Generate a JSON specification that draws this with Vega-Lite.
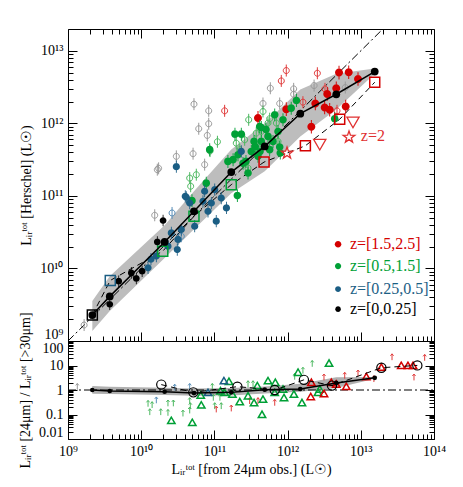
{
"$schema":"https://vega.github.io/schema/vega-lite/v6.json",
"background":"white",
"padding":{"left":17,"top":28,"right":27,"bottom":5},
"bounds":"flush",
"spacing":0,
"datasets":{
"med":[{"x":2.15e9,"y":2.28e9,"ylo":1.37e9,"yhi":3.55e9},{"x":3.72e9,"y":4.12e9,"ylo":2.59e9,"yhi":7.83e9},{"x":2.09e10,"y":2.32e10,"ylo":1.39e10,"yhi":3.94e10},{"x":5.26e10,"y":6.14e10,"ylo":3.48e10,"yhi":1.16e11},{"x":1.70e11,"y":2.13e11,"ylo":1.09e11,"yhi":4.38e11},{"x":4.87e11,"y":4.81e11,"ylo":2.18e11,"yhi":9.97e11},{"x":1.49e12,"y":1.36e12,"ylo":6.61e11,"yhi":2.93e12},{"x":4.62e12,"y":2.52e12,"ylo":1.55e12,"yhi":4.85e12},{"x":1.55e13,"y":5.18e12,"ylo":4.85e12,"yhi":5.69e12}],
"one":[{"x":1e9,"y":1e9},{"x":2e13,"y":2e13}],
"leg":[{"x":4.89e12,"tx":7.1e12,"y":2.16e10,"z":"z=[1.5,2.5]"},{"x":4.89e12,"tx":7.1e12,"y":1.08e10,"z":"z=[0.5,1.5]"},{"x":4.89e12,"tx":7.1e12,"y":5.19e9,"z":"z=[0.25,0.5]"},{"x":4.89e12,"tx":7.1e12,"y":2.75e9,"z":"z=[0,0.25]"}],
"sq":[{"x":2.15e9,"y":2.28e9,"z":"z=[0,0.25]"},{"x":3.78e9,"y":6.84e9,"z":"z=[0.25,0.5]"},{"x":1.97e10,"y":1.73e10,"z":"z=[0.5,1.5]"},{"x":5.26e10,"y":5.24e10,"z":"z=[0.5,1.5]"},{"x":1.70e11,"y":1.43e11,"z":"z=[0.5,1.5]"},{"x":4.77e11,"y":2.93e11,"z":"z=[1.5,2.5]"},{"x":1.75e12,"y":4.92e11,"z":"z=[1.5,2.5]"},{"x":5.15e12,"y":1.14e12,"z":"z=[1.5,2.5]"},{"x":1.55e13,"y":3.69e12,"z":"z=[1.5,2.5]"}],
"z2":[{"x":6.90e12,"y":6.46e11,"s":"star"},{"x":9.82e11,"y":3.89e11,"s":"star"},{"x":7.82e12,"y":1.03e12,"s":"tri"},{"x":2.75e12,"y":5.08e11,"s":"tri"}],
"z2lab":[{"x":1.0e13,"y":6.6e11,"t":"z=2"}],
"det":[
{"x":5.04e12,"y":5.01e12,"z":"z=[1.5,2.5]"},{"x":6.84e12,"y":5.06e12,"z":"z=[1.5,2.5]"},{"x":9.16e12,"y":4.10e12,"z":"z=[1.5,2.5]"},{"x":3.48e12,"y":2.55e12,"z":"z=[1.5,2.5]"},{"x":2.39e12,"y":1.88e12,"z":"z=[1.5,2.5]"},{"x":9.59e11,"y":1.57e12,"z":"z=[1.5,2.5]"},{"x":3.21e12,"y":1.66e12,"z":"z=[1.5,2.5]"},{"x":3.76e12,"y":1.54e12,"z":"z=[1.5,2.5]"},{"x":6.22e12,"y":1.71e12,"z":"z=[1.5,2.5]"},{"x":2.11e12,"y":8.98e11,"z":"z=[1.5,2.5]"},{"x":3.94e11,"y":1.19e12,"z":"z=[1.5,2.5]"},{"x":4.62e12,"y":3.05e12,"z":"z=[1.5,2.5]"},
{"x":1.91e11,"y":7.10e11,"z":"z=[0.5,1.5]"},{"x":2.33e11,"y":7.10e11,"z":"z=[0.5,1.5]"},{"x":8.63e10,"y":4.34e11,"z":"z=[0.5,1.5]"},{"x":4.16e11,"y":9.06e11,"z":"z=[0.5,1.5]"},{"x":6.67e11,"y":1.31e12,"z":"z=[0.5,1.5]"},{"x":3.48e11,"y":5.64e11,"z":"z=[0.5,1.5]"},{"x":3.62e11,"y":4.81e11,"z":"z=[0.5,1.5]"},{"x":4.37e11,"y":5.64e11,"z":"z=[0.5,1.5]"},{"x":5.40e11,"y":6.61e11,"z":"z=[0.5,1.5]"},{"x":3.19e11,"y":4.10e11,"z":"z=[0.5,1.5]"},{"x":1.80e11,"y":3.16e11,"z":"z=[0.5,1.5]"},{"x":1.53e11,"y":2.99e11,"z":"z=[0.5,1.5]"},{"x":2.10e11,"y":3.70e11,"z":"z=[0.5,1.5]"},{"x":2.88e11,"y":2.07e11,"z":"z=[0.5,1.5]"},{"x":7.74e10,"y":1.50e11,"z":"z=[0.5,1.5]"},{"x":2.06e11,"y":1.01e11,"z":"z=[0.5,1.5]"},{"x":7.40e11,"y":7.74e11,"z":"z=[0.5,1.5]"},{"x":8.65e11,"y":1.12e12,"z":"z=[0.5,1.5]"},{"x":1.32e12,"y":2.07e12,"z":"z=[0.5,1.5]"},{"x":1.12e12,"y":1.62e12,"z":"z=[0.5,1.5]"},{"x":5.69e11,"y":4.34e11,"z":"z=[0.5,1.5]"},{"x":7.80e11,"y":4.71e11,"z":"z=[0.5,1.5]"},{"x":7.94e11,"y":3.89e11,"z":"z=[0.5,1.5]"},{"x":4.40e12,"y":1.16e12,"z":"z=[0.5,1.5]"},{"x":4.37e11,"y":8.79e11,"z":"z=[0.5,1.5]"},{"x":2.46e11,"y":2.81e11,"z":"z=[0.5,1.5]"},{"x":3.94e11,"y":3.51e11,"z":"z=[0.5,1.5]"},{"x":4.94e10,"y":8.61e10,"z":"z=[0.5,1.5]"},{"x":4.20e11,"y":4.10e11,"z":"z=[0.5,1.5]"},{"x":2.70e11,"y":2.99e11,"z":"z=[0.5,1.5]"},{"x":6.32e11,"y":5.64e11,"z":"z=[0.5,1.5]"},{"x":5.07e11,"y":8.24e11,"z":"z=[0.5,1.5]"},
{"x":4.00e10,"y":9.89e10,"z":"z=[0.25,0.5]"},{"x":9.08e10,"y":7.98e10,"z":"z=[0.25,0.5]"},{"x":4.60e10,"y":7.98e10,"z":"z=[0.25,0.5]"},{"x":3.53e10,"y":3.44e10,"z":"z=[0.25,0.5]"},{"x":3.18e10,"y":2.51e10,"z":"z=[0.25,0.5]"},{"x":3.11e10,"y":1.82e10,"z":"z=[0.25,0.5]"},{"x":2.58e10,"y":3.09e10,"z":"z=[0.25,0.5]"},{"x":1.24e10,"y":1.02e10,"z":"z=[0.25,0.5]"},{"x":1.61e10,"y":1.48e10,"z":"z=[0.25,0.5]"},{"x":5.38e10,"y":3.82e10,"z":"z=[0.25,0.5]"},{"x":8.18e10,"y":6.14e10,"z":"z=[0.25,0.5]"},{"x":1.06e11,"y":4.48e10,"z":"z=[0.25,0.5]"},{"x":3.02e10,"y":2.53e11,"z":"z=[0.25,0.5]"},{"x":4.13e10,"y":9.57e10,"z":"z=[0.25,0.5]"},{"x":6.98e10,"y":8.43e10,"z":"z=[0.25,0.5]"},{"x":1.01e11,"y":1.22e11,"z":"z=[0.25,0.5]"},{"x":1.24e11,"y":9.35e10,"z":"z=[0.25,0.5]"},{"x":1.46e11,"y":6.82e10,"z":"z=[0.25,0.5]"},{"x":2.33e11,"y":4.10e11,"z":"z=[0.25,0.5]"},{"x":2.32e10,"y":2.03e10,"z":"z=[0.25,0.5]"},{"x":7.36e10,"y":1.16e11,"z":"z=[0.25,0.5]"},{"x":1.36e10,"y":1.34e10,"z":"z=[0.25,0.5]"},
{"x":1.99e10,"y":4.57e10,"z":"z=[0,0.25]"},{"x":1.66e10,"y":2.32e10,"z":"z=[0,0.25]"},{"x":4.93e9,"y":6.68e9,"z":"z=[0,0.25]"},{"x":7.33e9,"y":8.69e9,"z":"z=[0,0.25]"},{"x":8.57e9,"y":7.28e9,"z":"z=[0,0.25]"},{"x":1.03e10,"y":9.18e9,"z":"z=[0,0.25]"},{"x":3.72e9,"y":3.20e9,"z":"z=[0,0.25]"}
],
"lim":[
{"x":9.59e11,"y":5.35e12,"z":"z=[1.5,2.5]"},{"x":8.20e11,"y":3.85e12,"z":"z=[1.5,2.5]"},{"x":2.55e12,"y":4.91e12,"z":"z=[1.5,2.5]"},{"x":1.62e12,"y":1.96e12,"z":"z=[1.5,2.5]"},{"x":4.73e12,"y":1.49e12,"z":"z=[1.5,2.5]"},{"x":1.38e11,"y":1.49e12,"z":"z=[1.5,2.5]"},{"x":3.24e12,"y":2.99e12,"z":"z=[1.5,2.5]"},
{"x":5.26e10,"y":1.84e12,"z":"z=[0,0.25]"},{"x":8.36e10,"y":1.49e12,"z":"z=[0,0.25]"},{"x":8.36e10,"y":9.88e11,"z":"z=[0,0.25]"},{"x":6.11e10,"y":8.43e11,"z":"z=[0,0.25]"},{"x":8.00e10,"y":6.82e11,"z":"z=[0,0.25]"},{"x":5.11e10,"y":3.82e11,"z":"z=[0,0.25]"},{"x":3.02e10,"y":3.51e11,"z":"z=[0,0.25]"},{"x":7.36e10,"y":2.70e11,"z":"z=[0,0.25]"},{"x":1.66e10,"y":2.30e11,"z":"z=[0,0.25]"},{"x":1.73e10,"y":2.40e11,"z":"z=[0,0.25]"},{"x":1.53e10,"y":5.41e10,"z":"z=[0,0.25]"},{"x":1.66e9,"y":1.66e9,"z":"z=[0,0.25]"},{"x":5.81e11,"y":3.05e12,"z":"z=[0,0.25]"},{"x":4.61e11,"y":1.88e12,"z":"z=[0,0.25]"},{"x":7.80e11,"y":1.88e12,"z":"z=[0,0.25]"},{"x":1.21e12,"y":2.99e12,"z":"z=[0,0.25]"},{"x":1.21e12,"y":2.52e12,"z":"z=[0,0.25]"},{"x":2.30e12,"y":3.32e12,"z":"z=[0,0.25]"},{"x":6.14e12,"y":3.12e12,"z":"z=[0,0.25]"},
{"x":1.10e11,"y":5.58e11,"z":"z=[0.5,1.5]"},{"x":8.71e10,"y":4.15e11,"z":"z=[0.5,1.5]"},{"x":4.60e10,"y":1.76e11,"z":"z=[0.5,1.5]"},{"x":5.66e10,"y":1.96e11,"z":"z=[0.5,1.5]"},{"x":4.74e10,"y":1.36e11,"z":"z=[0.5,1.5]"},{"x":2.94e11,"y":1.12e12,"z":"z=[0.5,1.5]"},{"x":1.99e11,"y":5.34e11,"z":"z=[0.5,1.5]"},{"x":2.59e11,"y":5.94e11,"z":"z=[0.5,1.5]"},{"x":7.40e11,"y":5.64e11,"z":"z=[0.5,1.5]"},{"x":4.61e11,"y":1.46e12,"z":"z=[0.5,1.5]"},{"x":5.40e11,"y":1.01e12,"z":"z=[0.5,1.5]"},{"x":7.02e11,"y":1.01e12,"z":"z=[0.5,1.5]"},{"x":3.73e11,"y":7.33e11,"z":"z=[0.5,1.5]"},{"x":2.22e11,"y":4.34e11,"z":"z=[0.5,1.5]"},{"x":2.88e11,"y":2.42e11,"z":"z=[0.5,1.5]"},{"x":5.69e11,"y":1.16e12,"z":"z=[0.5,1.5]"},{"x":4.37e11,"y":7.74e11,"z":"z=[0.5,1.5]"},
{"x":2.64e10,"y":5.82e10,"z":"z=[0.25,0.5]"},{"x":3.53e10,"y":2.78e10,"z":"z=[0.25,0.5]"}
],
"rmed":[{"x":2.15e9,"r":1.0,"rlo":0.7,"rhi":1.45},{"x":3.72e9,"r":0.91,"rlo":0.68,"rhi":1.35},{"x":2.09e10,"r":0.85,"rlo":0.62,"rhi":1.25},{"x":5.26e10,"r":0.75,"rlo":0.58,"rhi":1.15},{"x":1.70e11,"r":0.80,"rlo":0.6,"rhi":1.2},{"x":4.87e11,"r":1.03,"rlo":0.72,"rhi":1.4},{"x":1.49e12,"r":1.10,"rlo":0.85,"rhi":1.8},{"x":4.62e12,"r":1.95,"rlo":1.2,"rhi":3.3},{"x":1.55e13,"r":3.13,"rlo":2.9,"rhi":3.4}],
"unity":[{"x":1e9,"r":1},{"x":1e14,"r":1}],
"bc":[{"x":1.88e10,"r":1.66},{"x":5.15e10,"r":0.80},{"x":2.06e11,"r":1.37},{"x":6.67e11,"r":1.0},{"x":1.67e12,"r":2.59},{"x":4.04e12,"r":1.51},{"x":1.91e13,"r":8.11},{"x":5.92e13,"r":10.1}],
"bt":[
{"x":2.58e10,"r":0.0576,"z":"z=[0.5,1.5]"},{"x":4.99e10,"r":0.0476,"z":"z=[0.5,1.5]"},{"x":6.62e10,"r":0.247,"z":"z=[0.5,1.5]"},{"x":6.50e10,"r":0.621,"z":"z=[0.5,1.5]"},{"x":1.58e11,"r":2.27,"z":"z=[0.5,1.5]"},{"x":1.21e11,"r":0.93,"z":"z=[0.5,1.5]"},{"x":1.38e11,"r":0.80,"z":"z=[0.5,1.5]"},{"x":2.22e11,"r":0.338,"z":"z=[0.5,1.5]"},{"x":2.88e11,"r":0.581,"z":"z=[0.5,1.5]"},{"x":3.48e11,"r":0.307,"z":"z=[0.5,1.5]"},{"x":1.76e11,"r":0.684,"z":"z=[0.5,1.5]"},{"x":3.68e12,"r":12.6,"z":"z=[0.5,1.5]"},{"x":1.39e12,"r":5.34,"z":"z=[0.5,1.5]"},{"x":5.40e11,"r":2.42,"z":"z=[0.5,1.5]"},{"x":6.79e11,"r":2.06,"z":"z=[0.5,1.5]"},{"x":4.61e11,"r":0.425,"z":"z=[0.5,1.5]"},{"x":6.67e11,"r":0.80,"z":"z=[0.5,1.5]"},{"x":8.65e11,"r":1.10,"z":"z=[0.5,1.5]"},{"x":8.93e11,"r":0.494,"z":"z=[0.5,1.5]"},{"x":1.22e12,"r":0.684,"z":"z=[0.5,1.5]"},{"x":1.57e12,"r":0.307,"z":"z=[0.5,1.5]"},{"x":4.47e11,"r":0.102,"z":"z=[0.5,1.5]"},{"x":2.60e12,"r":0.80,"z":"z=[0.5,1.5]"},{"x":2.75e12,"r":1.10,"z":"z=[0.5,1.5]"},{"x":3.86e11,"r":1.51,"z":"z=[0.5,1.5]"},
{"x":1.35e11,"r":2.42,"z":"z=[0.25,0.5]"},{"x":8.18e10,"r":0.80,"z":"z=[0.25,0.5]"},
{"x":2.07e12,"r":0.544,"z":"z=[1.5,2.5]"},{"x":2.11e12,"r":2.06,"z":"z=[1.5,2.5]"},{"x":3.14e12,"r":0.724,"z":"z=[1.5,2.5]"},{"x":3.95e12,"r":2.06,"z":"z=[1.5,2.5]"},{"x":4.62e12,"r":1.77,"z":"z=[1.5,2.5]"},{"x":6.34e12,"r":1.41,"z":"z=[1.5,2.5]"},{"x":1.19e13,"r":3.55,"z":"z=[1.5,2.5]"},{"x":3.57e13,"r":10.1,"z":"z=[1.5,2.5]"},{"x":4.41e13,"r":10.1,"z":"z=[1.5,2.5]"},{"x":5.17e13,"r":10.1,"z":"z=[1.5,2.5]"},{"x":1.91e13,"r":8.59,"z":"z=[1.5,2.5]"}
],
"arr":[
{"x":1.24e10,"r":0.279,"z":"z=[0.5,1.5]"},{"x":1.41e10,"r":0.247,"z":"z=[0.5,1.5]"},{"x":1.31e10,"r":0.127,"z":"z=[0.5,1.5]"},{"x":1.85e10,"r":0.127,"z":"z=[0.5,1.5]"},{"x":2.32e10,"r":0.290,"z":"z=[0.5,1.5]"},{"x":2.75e10,"r":0.290,"z":"z=[0.5,1.5]"},{"x":2.32e10,"r":0.119,"z":"z=[0.5,1.5]"},{"x":3.72e10,"r":0.112,"z":"z=[0.5,1.5]"},{"x":4.60e10,"r":0.361,"z":"z=[0.5,1.5]"},{"x":4.69e10,"r":0.224,"z":"z=[0.5,1.5]"},{"x":4.60e10,"r":0.149,"z":"z=[0.5,1.5]"},{"x":9.36e10,"r":1.37,"z":"z=[0.5,1.5]"},{"x":9.66e10,"r":0.494,"z":"z=[0.5,1.5]"},{"x":1.19e11,"r":0.494,"z":"z=[0.5,1.5]"},{"x":1.01e11,"r":0.224,"z":"z=[0.5,1.5]"},{"x":1.24e11,"r":0.224,"z":"z=[0.5,1.5]"},{"x":2.88e11,"r":1.77,"z":"z=[0.5,1.5]"},{"x":3.37e11,"r":1.77,"z":"z=[0.5,1.5]"},{"x":2.17e12,"r":11.9,"z":"z=[0.5,1.5]"},{"x":1.25e12,"r":3.55,"z":"z=[0.5,1.5]"},{"x":1.62e12,"r":6.28,"z":"z=[0.5,1.5]"},
{"x":1.61e10,"r":0.386,"z":"z=[0.25,0.5]"},{"x":2.87e10,"r":1.28,"z":"z=[0.25,0.5]"},{"x":4.60e10,"r":1.37,"z":"z=[0.25,0.5]"},
{"x":1.34e9,"r":1.37,"z":"z=[0,0.25]"},
{"x":1.06e11,"r":0.164,"z":"z=[1.5,2.5]"},{"x":1.70e11,"r":0.180,"z":"z=[1.5,2.5]"},{"x":3.03e11,"r":0.361,"z":"z=[1.5,2.5]"},{"x":3.94e11,"r":0.361,"z":"z=[1.5,2.5]"},{"x":6.67e11,"r":0.307,"z":"z=[1.5,2.5]"},{"x":3.14e12,"r":3.32,"z":"z=[1.5,2.5]"},{"x":6.03e12,"r":3.90,"z":"z=[1.5,2.5]"},{"x":9.16e12,"r":4.85,"z":"z=[1.5,2.5]"},{"x":1.51e13,"r":2.85,"z":"z=[1.5,2.5]"},{"x":2.67e13,"r":22.2,"z":"z=[1.5,2.5]"},{"x":5.33e13,"r":3.32,"z":"z=[1.5,2.5]"},{"x":7.46e13,"r":21.0,"z":"z=[1.5,2.5]"}
]
},
"vconcat":[
{
"width":366,"height":312,
"resolve":{"axis":{"x":"independent","y":"independent"}},
"layer":[
{"data":{"name":"med"},"mark":{"type":"area","color":"#bdbdbd","clip":true},
 "encoding":{
  "x":{"field":"x","type":"quantitative","scale":{"type":"log","domain":[1e9,1e14],"nice":false},
   "axis":{"orient":"bottom","labels":false,"title":null,"domain":false,"tickColor":"black",
    "values":[1e9,2e9,3e9,4e9,5e9,6e9,7e9,8e9,9e9,1e10,2e10,3e10,4e10,5e10,6e10,7e10,8e10,9e10,1e11,2e11,3e11,4e11,5e11,6e11,7e11,8e11,9e11,1e12,2e12,3e12,4e12,5e12,6e12,7e12,8e12,9e12,1e13,2e13,3e13,4e13,5e13,6e13,7e13,8e13,9e13,1e14],
    "tickSize":{"condition":{"test":"indexof([1e9,1e10,1e11,1e12,1e13,1e14],datum.value)>=0","value":-9},"value":-5}}},
  "y":{"field":"ylo","type":"quantitative","scale":{"type":"log","domain":[1e9,2e13],"nice":false},
   "axis":{"orient":"left","domain":false,"tickColor":"black","labelPadding":14,"titlePadding":6,"labelFlush":true,
    "title":"Lᵢᵣᵗᵒᵗ [Herschel] (L☉)",
    "values":[1e9,2e9,3e9,4e9,5e9,6e9,7e9,8e9,9e9,1e10,2e10,3e10,4e10,5e10,6e10,7e10,8e10,9e10,1e11,2e11,3e11,4e11,5e11,6e11,7e11,8e11,9e11,1e12,2e12,3e12,4e12,5e12,6e12,7e12,8e12,9e12,1e13],
    "labelExpr":"datum.value==1e9?'10⁹':datum.value==1e10?'10¹⁰':datum.value==1e11?'10¹¹':datum.value==1e12?'10¹²':datum.value==1e13?'10¹³':''",
    "tickSize":{"condition":{"test":"indexof([1e9,1e10,1e11,1e12,1e13],datum.value)>=0","value":-9},"value":-5}}},
  "y2":{"field":"yhi"}
 }},
{"data":{"name":"one"},"mark":{"type":"line","color":"black","strokeWidth":1,"strokeDash":[8,3,2,3],"clip":true},
 "encoding":{
  "x":{"field":"x","type":"quantitative","scale":{"type":"log","domain":[1e9,1e14],"nice":false},
   "axis":{"orient":"top","labels":false,"title":null,"domain":false,"tickColor":"black",
    "values":[1e9,2e9,3e9,4e9,5e9,6e9,7e9,8e9,9e9,1e10,2e10,3e10,4e10,5e10,6e10,7e10,8e10,9e10,1e11,2e11,3e11,4e11,5e11,6e11,7e11,8e11,9e11,1e12,2e12,3e12,4e12,5e12,6e12,7e12,8e12,9e12,1e13,2e13,3e13,4e13,5e13,6e13,7e13,8e13,9e13,1e14],
    "tickSize":{"condition":{"test":"indexof([1e9,1e10,1e11,1e12,1e13,1e14],datum.value)>=0","value":-9},"value":-5}}},
  "y":{"field":"y","type":"quantitative","scale":{"type":"log","domain":[1e9,2e13],"nice":false},
   "axis":{"orient":"right","labels":false,"title":null,"domain":false,"tickColor":"black",
    "values":[1e9,2e9,3e9,4e9,5e9,6e9,7e9,8e9,9e9,1e10,2e10,3e10,4e10,5e10,6e10,7e10,8e10,9e10,1e11,2e11,3e11,4e11,5e11,6e11,7e11,8e11,9e11,1e12,2e12,3e12,4e12,5e12,6e12,7e12,8e12,9e12,1e13],
    "tickSize":{"condition":{"test":"indexof([1e9,1e10,1e11,1e12,1e13],datum.value)>=0","value":-9},"value":-5}}}
 }},
{"data":{"name":"sq"},"mark":{"type":"line","color":"black","strokeWidth":1,"strokeDash":[6,4]},
 "encoding":{
  "x":{"field":"x","type":"quantitative","scale":{"type":"log","domain":[1e9,1e14],"nice":false},"axis":null},
  "y":{"field":"y","type":"quantitative","scale":{"type":"log","domain":[1e9,2e13],"nice":false},"axis":null}
 }},
{"data":{"name":"lim"},"mark":{"type":"point","filled":false,"strokeWidth":1,"size":36,"opacity":1,
  "shape":"M0,-2L0,2M-1,0A1,1,0,1,1,1,0A1,1,0,1,1,-1,0Z"},
 "encoding":{
  "x":{"field":"x","type":"quantitative","scale":{"type":"log","domain":[1e9,1e14],"nice":false},"axis":null},
  "y":{"field":"y","type":"quantitative","scale":{"type":"log","domain":[1e9,2e13],"nice":false},"axis":null},
  "stroke":{"field":"z","type":"nominal","scale":{"domain":["z=[0,0.25]","z=[0.25,0.5]","z=[0.5,1.5]","z=[1.5,2.5]"],"range":["#9a9a9a","#5a8fb8","#4cb860","#e03a3a"]},"legend":null}
 }},
{"data":{"name":"det"},"mark":{"type":"point","filled":true,"opacity":1,"strokeWidth":0,
  "shape":"M-0.12,-1.7L0.12,-1.7L0.12,-0.95L-0.12,-0.95ZM-0.12,0.95L0.12,0.95L0.12,1.7L-0.12,1.7ZM-1,0A1,1,0,1,1,1,0A1,1,0,1,1,-1,0Z"},
 "encoding":{
  "x":{"field":"x","type":"quantitative","scale":{"type":"log","domain":[1e9,1e14],"nice":false},"axis":null},
  "y":{"field":"y","type":"quantitative","scale":{"type":"log","domain":[1e9,2e13],"nice":false},"axis":null},
  "color":{"field":"z","type":"nominal","scale":{"domain":["z=[1.5,2.5]","z=[0.5,1.5]","z=[0.25,0.5]","z=[0,0.25]"],"range":["#d40000","#00a036","#1b5e84","#000000"]},"legend":null},
  "size":{"field":"z","type":"nominal","scale":{"domain":["z=[1.5,2.5]","z=[0.5,1.5]","z=[0.25,0.5]","z=[0,0.25]"],"range":[64,46,34,18]},"legend":null}
 }},
{"data":{"name":"leg"},"mark":{"type":"point","filled":true,"opacity":1,"strokeWidth":0,
  "shape":"M-0.82,0A0.82,0.82,0,1,1,0.82,0A0.82,0.82,0,1,1,-0.82,0Z"},
 "encoding":{
  "x":{"field":"x","type":"quantitative","scale":{"type":"log","domain":[1e9,1e14],"nice":false},"axis":null},
  "y":{"field":"y","type":"quantitative","scale":{"type":"log","domain":[1e9,2e13],"nice":false},"axis":null},
  "color":{"field":"z","type":"nominal","legend":null},
  "size":{"field":"z","type":"nominal","legend":null}
 }},
{"data":{"name":"leg"},"mark":{"type":"text","align":"left","baseline":"middle","font":"Liberation Serif","fontSize":16},
 "encoding":{
  "x":{"field":"tx","type":"quantitative","scale":{"type":"log","domain":[1e9,1e14],"nice":false},"axis":null},
  "y":{"field":"y","type":"quantitative","scale":{"type":"log","domain":[1e9,2e13],"nice":false},"axis":null},
  "text":{"field":"z"},
  "color":{"field":"z","type":"nominal","legend":null}
 }},
{"data":{"name":"sq"},"mark":{"type":"point","shape":"square","filled":false,"strokeWidth":1.5,"size":100,"opacity":1},
 "encoding":{
  "x":{"field":"x","type":"quantitative","scale":{"type":"log","domain":[1e9,1e14],"nice":false},"axis":null},
  "y":{"field":"y","type":"quantitative","scale":{"type":"log","domain":[1e9,2e13],"nice":false},"axis":null},
  "color":{"field":"z","type":"nominal","legend":null}
 }},
{"data":{"name":"z2"},"mark":{"type":"point","filled":false,"strokeWidth":1.3,"size":150,"color":"#e03030","opacity":1},
 "encoding":{
  "x":{"field":"x","type":"quantitative","scale":{"type":"log","domain":[1e9,1e14],"nice":false},"axis":null},
  "y":{"field":"y","type":"quantitative","scale":{"type":"log","domain":[1e9,2e13],"nice":false},"axis":null},
  "shape":{"field":"s","type":"nominal","scale":{"domain":["star","tri"],"range":["M0,-1L0.235,-0.324L0.951,-0.309L0.38,0.124L0.588,0.809L0,0.4L-0.588,0.809L-0.38,0.124L-0.951,-0.309L-0.235,-0.324Z","triangle-down"]},"legend":null}
 }},
{"data":{"name":"z2lab"},"mark":{"type":"text","align":"left","baseline":"middle","font":"Liberation Serif","fontSize":16,"color":"#e03030"},
 "encoding":{
  "x":{"field":"x","type":"quantitative","scale":{"type":"log","domain":[1e9,1e14],"nice":false},"axis":null},
  "y":{"field":"y","type":"quantitative","scale":{"type":"log","domain":[1e9,2e13],"nice":false},"axis":null},
  "text":{"field":"t"}
 }},
{"data":{"name":"med"},"mark":{"type":"line","color":"black","strokeWidth":1.5,"point":{"filled":true,"size":60,"color":"black","opacity":1}},
 "encoding":{
  "x":{"field":"x","type":"quantitative","scale":{"type":"log","domain":[1e9,1e14],"nice":false},"axis":null},
  "y":{"field":"y","type":"quantitative","scale":{"type":"log","domain":[1e9,2e13],"nice":false},"axis":null}
 }}
]
},
{
"width":366,"height":98,
"resolve":{"axis":{"x":"independent","y":"independent"}},
"layer":[
{"data":{"name":"rmed"},"mark":{"type":"area","color":"#b0b0b0","clip":true},
 "encoding":{
  "x":{"field":"x","type":"quantitative","scale":{"type":"log","domain":[1e9,1e14],"nice":false},
   "axis":{"orient":"bottom","domain":false,"tickColor":"black","labelPadding":14,"titlePadding":4,"labelFlush":false,
    "title":"Lᵢᵣᵗᵒᵗ [from 24μm obs.] (L☉)",
    "values":[1e9,2e9,3e9,4e9,5e9,6e9,7e9,8e9,9e9,1e10,2e10,3e10,4e10,5e10,6e10,7e10,8e10,9e10,1e11,2e11,3e11,4e11,5e11,6e11,7e11,8e11,9e11,1e12,2e12,3e12,4e12,5e12,6e12,7e12,8e12,9e12,1e13,2e13,3e13,4e13,5e13,6e13,7e13,8e13,9e13,1e14],
    "labelExpr":"datum.value==1e9?'10⁹':datum.value==1e10?'10¹⁰':datum.value==1e11?'10¹¹':datum.value==1e12?'10¹²':datum.value==1e13?'10¹³':datum.value==1e14?'10¹⁴':''",
    "tickSize":{"condition":{"test":"indexof([1e9,1e10,1e11,1e12,1e13,1e14],datum.value)>=0","value":-9},"value":-5}}},
  "y":{"field":"rlo","type":"quantitative","scale":{"type":"log","domain":[0.01,100],"nice":false},
   "axis":{"orient":"left","domain":false,"tickColor":"black","labelPadding":14,"titlePadding":6,"labelFlush":true,
    "title":"Lᵢᵣᵗᵒᵗ [24μm] / Lᵢᵣᵗᵒᵗ [>30μm]",
    "values":[0.01,0.02,0.03,0.04,0.05,0.06,0.07,0.08,0.09,0.1,0.2,0.3,0.4,0.5,0.6,0.7,0.8,0.9,1,2,3,4,5,6,7,8,9,10,20,30,40,50,60,70,80,90,100],
    "labelExpr":"datum.value==0.01?'0.01':datum.value==0.1?'0.1':datum.value==1?'1':datum.value==10?'10':datum.value==100?'100':''",
    "tickSize":{"condition":{"test":"indexof([0.01,0.1,1,10,100],datum.value)>=0","value":-9},"value":-5}}},
  "y2":{"field":"rhi"}
 }},
{"data":{"name":"unity"},"mark":{"type":"line","color":"black","strokeWidth":1,"strokeDash":[8,3,2,3]},
 "encoding":{
  "x":{"field":"x","type":"quantitative","scale":{"type":"log","domain":[1e9,1e14],"nice":false},"axis":null},
  "y":{"field":"r","type":"quantitative","scale":{"type":"log","domain":[0.01,100],"nice":false},
   "axis":{"orient":"right","labels":false,"title":null,"domain":false,"tickColor":"black",
    "values":[0.01,0.02,0.03,0.04,0.05,0.06,0.07,0.08,0.09,0.1,0.2,0.3,0.4,0.5,0.6,0.7,0.8,0.9,1,2,3,4,5,6,7,8,9,10,20,30,40,50,60,70,80,90,100],
    "tickSize":{"condition":{"test":"indexof([0.01,0.1,1,10,100],datum.value)>=0","value":-9},"value":-5}}}
 }},
{"data":{"name":"arr"},"mark":{"type":"point","filled":false,"strokeWidth":1,"size":40,"opacity":1,"shape":"M0,1L0,-1M-0.5,-0.4L0,-1L0.5,-0.4"},
 "encoding":{
  "x":{"field":"x","type":"quantitative","scale":{"type":"log","domain":[1e9,1e14],"nice":false},"axis":null},
  "y":{"field":"r","type":"quantitative","scale":{"type":"log","domain":[0.01,100],"nice":false},"axis":null},
  "stroke":{"field":"z","type":"nominal","legend":null}
 }},
{"data":{"name":"bt"},"mark":{"type":"point","shape":"triangle-up","filled":false,"strokeWidth":1.5,"size":55,"opacity":1},
 "encoding":{
  "x":{"field":"x","type":"quantitative","scale":{"type":"log","domain":[1e9,1e14],"nice":false},"axis":null},
  "y":{"field":"r","type":"quantitative","scale":{"type":"log","domain":[0.01,100],"nice":false},"axis":null},
  "color":{"field":"z","type":"nominal","legend":null}
 }},
{"data":{"name":"bc"},"mark":{"type":"line","color":"black","strokeWidth":1,"strokeDash":[6,4]},
 "encoding":{
  "x":{"field":"x","type":"quantitative","scale":{"type":"log","domain":[1e9,1e14],"nice":false},"axis":null},
  "y":{"field":"r","type":"quantitative","scale":{"type":"log","domain":[0.01,100],"nice":false},"axis":null}
 }},
{"data":{"name":"bc"},"mark":{"type":"point","shape":"circle","filled":false,"strokeWidth":1.2,"size":85,"color":"black","opacity":1},
 "encoding":{
  "x":{"field":"x","type":"quantitative","scale":{"type":"log","domain":[1e9,1e14],"nice":false},"axis":null},
  "y":{"field":"r","type":"quantitative","scale":{"type":"log","domain":[0.01,100],"nice":false},"axis":null}
 }},
{"data":{"name":"rmed"},"mark":{"type":"line","color":"black","strokeWidth":1.5,"point":{"filled":true,"size":22,"color":"black","opacity":1}},
 "encoding":{
  "x":{"field":"x","type":"quantitative","scale":{"type":"log","domain":[1e9,1e14],"nice":false},"axis":null},
  "y":{"field":"r","type":"quantitative","scale":{"type":"log","domain":[0.01,100],"nice":false},"axis":null}
 }}
]
}
],
"config":{
 "view":{"stroke":"black","strokeWidth":1},
 "font":"Liberation Serif",
 "axis":{"grid":false,"labelFont":"Liberation Serif","labelFontSize":14,"titleFont":"Liberation Serif","titleFontSize":14,"titleFontWeight":"normal","labelColor":"black","titleColor":"black"}
}
}
